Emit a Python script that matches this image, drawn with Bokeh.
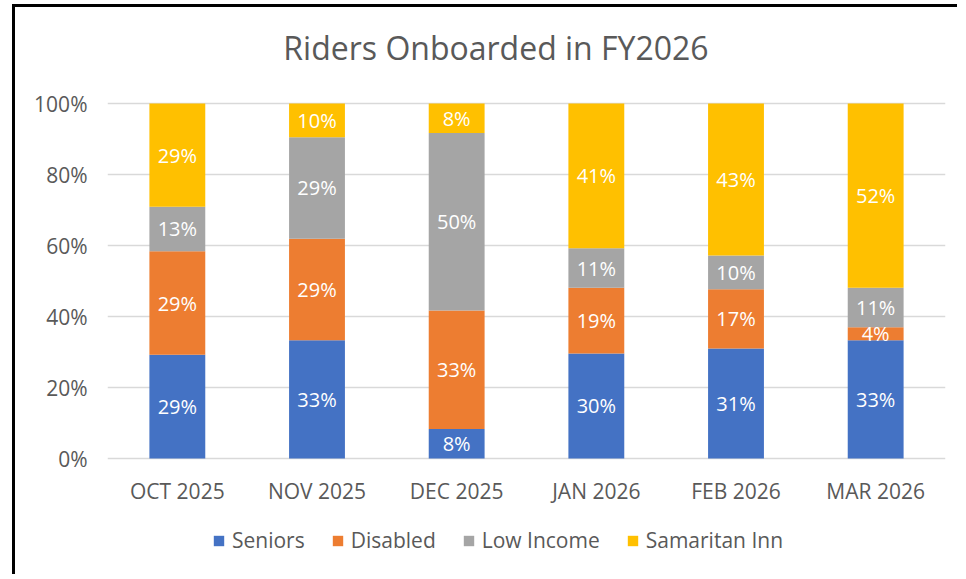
from bokeh.plotting import figure
from bokeh.models import ColumnDataSource, FixedTicker, PrintfTickFormatter, Legend, LegendItem, Label
from bokeh.core.properties import value
from bokeh.embed import file_html
from bokeh.resources import INLINE
import math

months = ["OCT 2025", "NOV 2025", "DEC 2025", "JAN 2026", "FEB 2026", "MAR 2026"]
series = ["Seniors", "Disabled", "Low Income", "Samaritan Inn"]
seniors = [29.2, 33.3, 8.3, 29.6, 31.0, 33.3]
disabled = [29.2, 28.6, 33.4, 18.5, 16.7, 3.7]
low_income = [12.5, 28.6, 50.0, 11.1, 9.5, 11.1]
samaritan = [29.1, 9.5, 8.3, 40.8, 42.8, 51.9]
colors = ["#4472C4", "#ED7D31", "#A5A5A5", "#FFC000"]
y_ticks = [0, 20, 40, 60, 80, 100]
title_text = "Riders Onboarded in FY2026"

FONT = "Open Sans"
TXT = "#595959"

data = {"month": months, "Seniors": seniors, "Disabled": disabled,
        "Low Income": low_income, "Samaritan Inn": samaritan}
src = ColumnDataSource(data)

# layout geometry (pixels)
W, H = 945, 570
PLOT_TOP, PLOT_BOTTOM = 96, 451          # canvas y of 100% and 0%
PX = (PLOT_BOTTOM - PLOT_TOP) / 100.0    # pixels per percent
y_lo = -(H - PLOT_BOTTOM) / PX
y_hi = 100 + PLOT_TOP / PX

p = figure(x_range=months, y_range=(y_lo, y_hi), width=W, height=H,
           output_backend="svg", toolbar_location=None, title=None,
           x_axis_location=None,
           min_border_left=92, min_border_right=15, min_border_top=0, min_border_bottom=0,
           styles={"margin-left": "12px", "margin-top": "4px",
                   "border-left": "3px solid black", "border-top": "3px solid black"})
p.outline_line_color = None
p.background_fill_color = "white"
p.border_fill_color = "white"

renderers = p.vbar_stack(series, x="month", width=0.4, source=src, color=colors,
                         line_color=None)

# y axis
p.yaxis.ticker = FixedTicker(ticks=y_ticks)
p.yaxis.formatter = PrintfTickFormatter(format="%d%%")
p.yaxis.axis_line_color = None
p.yaxis.major_tick_line_color = None
p.yaxis.minor_tick_line_color = None
p.yaxis.major_tick_out = 0
p.yaxis.major_tick_in = 0
p.yaxis.major_label_text_font = FONT
p.yaxis.major_label_text_font_size = "21px"
p.yaxis.major_label_text_color = TXT
p.yaxis.major_label_standoff = 20

p.xgrid.grid_line_color = None
p.ygrid.ticker = FixedTicker(ticks=y_ticks)
p.ygrid.grid_line_color = "#D9D9D9"
p.ygrid.grid_line_width = 1.5

# category labels below the 0% line
p.text(x=months, y=[-32 / PX] * len(months), text=months, text_color=TXT,
       text_font=value(FONT), text_font_size="21px", text_align="center",
       text_baseline="middle")

# data labels
lx, ly, lt = [], [], []
for i, m in enumerate(months):
    base = 0.0
    for col in series:
        v = data[col][i]
        lx.append(m)
        ly.append(base + v / 2)
        lt.append(f"{int(math.floor(v + 0.5))}%")
        base += v
p.text(x=lx, y=ly, text=lt, text_color="white", text_font=value(FONT),
       text_font_size="20px", text_align="center", text_baseline="middle")

# title
p.add_layout(Label(x=388.5, y=H - 40, x_units="screen", y_units="screen", text=title_text,
                   text_font=FONT, text_font_size="32px", text_color=TXT,
                   text_align="center", text_baseline="middle"))

# legend
legend = Legend(items=[LegendItem(label=s, renderers=[r]) for s, r in zip(series, renderers)],
                orientation="horizontal", location=(105, H - 547),
                glyph_width=13, glyph_height=13, label_standoff=7, spacing=26,
                padding=0, margin=0, border_line_color=None, background_fill_alpha=0,
                label_text_font=FONT, label_text_font_size="21px", label_text_color=TXT)
p.add_layout(legend, "center")

open("out.html", "w").write(file_html(p, INLINE))
